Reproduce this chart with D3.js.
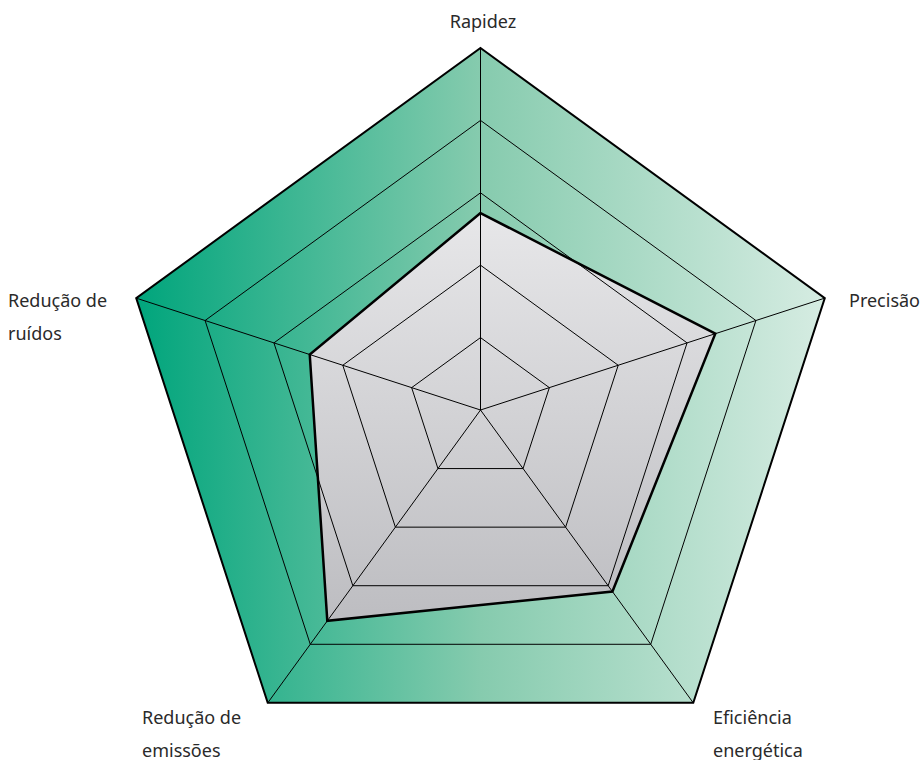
<!DOCTYPE html>
<html>
<head>
<meta charset="utf-8">
<script src="https://cdn.jsdelivr.net/npm/d3@7"></script>
<style>
  body { margin: 0; background: #fff; }
  svg text { font-family: "Noto Sans", "Open Sans", sans-serif; font-size: 18px; fill: #2a2a2a; }
</style>
</head>
<body>
<div id="chart"></div>
<script>
// axes, clockwise from top
const axes = ['Rapidez', 'Precisão', 'Eficiência energética', 'Redução de emissões', 'Redução de ruídos'];
const axisLabelLines = [['Rapidez'], ['Precisão'], ['Eficiência', 'energética'], ['Redução de', 'emissões'], ['Redução de', 'ruídos']];
const values = [2.72, 3.41, 3.10, 3.60, 2.48];
const levels = [1, 2, 3, 4, 5];

const width = 924, height = 760;
const cx = 480.5, cy = 410, R = 362;

const svg = d3.select('#chart').append('svg')
  .attr('width', width)
  .attr('height', height);

const defs = svg.append('defs');
const green = defs.append('linearGradient').attr('id', 'green')
  .attr('x1', '0%').attr('x2', '100%').attr('y1', '0%').attr('y2', '0%');
green.append('stop').attr('offset', '0%').attr('stop-color', '#00a57c');
green.append('stop').attr('offset', '50%').attr('stop-color', '#86cbae');
green.append('stop').attr('offset', '100%').attr('stop-color', '#d6ece2');

const grey = defs.append('linearGradient').attr('id', 'grey')
  .attr('x1', '0%').attr('x2', '0%').attr('y1', '0%').attr('y2', '100%');
grey.append('stop').attr('offset', '0%').attr('stop-color', '#e7e7e9');
grey.append('stop').attr('offset', '100%').attr('stop-color', '#bdbdc1');

const r = d3.scaleLinear().domain([0, 5]).range([0, R]);
const angle = d3.scalePoint().domain(axes).range([0, 2 * Math.PI * (axes.length - 1) / axes.length]);

const pt = (a, v) => [cx + r(v) * Math.sin(angle(a)), cy - r(v) * Math.cos(angle(a))];
const line = d3.line().curve(d3.curveLinearClosed);

const g = svg.append('g');

// outer background
g.append('path')
  .attr('d', line(axes.map(a => pt(a, 5))))
  .attr('fill', 'url(#green)');

// data polygon fill
g.append('path')
  .attr('d', line(axes.map((a, i) => pt(a, values[i]))))
  .attr('fill', 'url(#grey)');

// grid rings
g.selectAll('.ring')
  .data(levels.slice(0, -1))
  .join('path')
  .attr('class', 'ring')
  .attr('d', l => line(axes.map(a => pt(a, l))))
  .attr('fill', 'none')
  .attr('stroke', '#000')
  .attr('stroke-width', 1);

// spokes
g.selectAll('.spoke')
  .data(axes)
  .join('line')
  .attr('class', 'spoke')
  .attr('x1', cx).attr('y1', cy)
  .attr('x2', a => pt(a, 5)[0])
  .attr('y2', a => pt(a, 5)[1])
  .attr('stroke', '#000')
  .attr('stroke-width', 1);

// outer border
g.append('path')
  .attr('d', line(axes.map(a => pt(a, 5))))
  .attr('fill', 'none')
  .attr('stroke', '#000')
  .attr('stroke-width', 2);

// data outline
g.append('path')
  .attr('d', line(axes.map((a, i) => pt(a, values[i]))))
  .attr('fill', 'none')
  .attr('stroke', '#000')
  .attr('stroke-width', 2.5)
  .attr('stroke-linejoin', 'miter');

// labels
const labelPos = [
  { x: 483, y: 28, anchor: 'middle' },
  { x: 849, y: 307, anchor: 'start' },
  { x: 713, y: 724, anchor: 'start' },
  { x: 142, y: 724, anchor: 'start' },
  { x: 8, y: 307, anchor: 'start' }
];

const labels = svg.append('g').selectAll('text')
  .data(axisLabelLines)
  .join('text')
  .attr('x', (d, i) => labelPos[i].x)
  .attr('y', (d, i) => labelPos[i].y)
  .attr('text-anchor', (d, i) => labelPos[i].anchor);

labels.selectAll('tspan')
  .data((d, i) => d.map(t => ({ t, i })))
  .join('tspan')
  .attr('x', d => labelPos[d.i].x)
  .attr('dy', (d, j) => j === 0 ? 0 : 33)
  .text(d => d.t);
</script>
</body>
</html>
